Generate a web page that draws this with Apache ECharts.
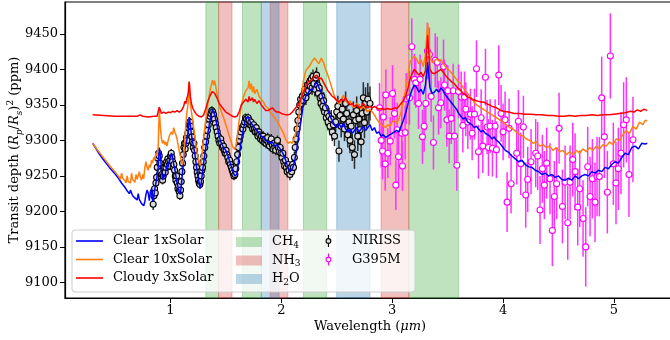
<!DOCTYPE html>
<html>
<head>
<meta charset="utf-8">
<script src="https://cdn.jsdelivr.net/npm/echarts@6/dist/echarts.min.js"></script>
<style>
  html, body { margin: 0; padding: 0; background: #fff; }
  #chart { width: 670px; height: 340px; }
</style>
</head>
<body>
<div id="chart"></div>
<script>
// Axis ticks
const xTicks = [1, 2, 3, 4, 5];
const yTicks = [9100, 9150, 9200, 9250, 9300, 9350, 9400, 9450];

// Molecular absorption windows (micron ranges)
const bandsCH4 = [[1.32, 1.435], [1.65, 1.82], [2.2, 2.41], [3.15, 3.6]];
const bandsNH3 = [[1.435, 1.556], [1.90, 2.06], [2.9, 3.15]];
const bandsH2O = [[1.82, 1.98], [2.5, 2.8]];

// Model spectra: [wavelength (um), transit depth (ppm)]
const clear1x = [
  [0.30,9296],[0.35,9283],[0.40,9272],[0.45,9262],[0.50,9253],[0.53,9247],[0.56,9240],[0.59,9234],[0.61,9229],[0.63,9225],
  [0.64,9230],[0.66,9222],[0.68,9219],[0.70,9216],[0.71,9225],[0.72,9217],[0.74,9211],[0.76,9208],[0.77,9214],[0.78,9224],
  [0.79,9230],[0.80,9226],[0.81,9215],[0.82,9228],[0.83,9232],[0.84,9214],[0.85,9220],[0.86,9232],[0.87,9240],[0.88,9250],
  [0.89,9262],[0.90,9290],[0.91,9280],[0.92,9258],[0.93,9244],[0.94,9252],[0.95,9248],[0.96,9258],[0.97,9266],[0.98,9262],
  [0.99,9272],[1.00,9276],[1.01,9282],[1.02,9276],[1.03,9266],[1.04,9260],[1.05,9250],[1.06,9240],[1.07,9234],[1.08,9228],
  [1.09,9224],[1.10,9238],[1.11,9256],[1.12,9272],[1.13,9286],[1.14,9294],[1.15,9302],[1.16,9312],[1.17,9333],[1.18,9322],
  [1.19,9308],[1.20,9298],[1.21,9290],[1.22,9282],[1.23,9270],[1.24,9258],[1.25,9248],[1.26,9240],[1.27,9232],[1.28,9242],
  [1.29,9256],[1.30,9268],[1.32,9290],[1.34,9312],[1.36,9330],[1.38,9344],[1.40,9336],[1.42,9322],[1.44,9306],[1.46,9296],
  [1.48,9290],[1.50,9286],[1.52,9278],[1.54,9268],[1.56,9258],[1.58,9250],[1.60,9252],[1.62,9278],[1.64,9300],[1.66,9318],
  [1.68,9330],[1.70,9334],[1.72,9326],[1.74,9322],[1.76,9318],[1.78,9314],[1.80,9310],[1.82,9306],[1.84,9304],[1.86,9300],
  [1.88,9298],[1.90,9296],[1.92,9298],[1.94,9292],[1.96,9294],[1.98,9290],[2.00,9286],[2.02,9280],[2.04,9272],[2.06,9262],
  [2.08,9256],[2.10,9260],[2.12,9270],[2.14,9288],[2.16,9310],[2.18,9330],[2.20,9352],[2.22,9362],[2.24,9366],[2.26,9372],
  [2.28,9370],[2.30,9378],[2.32,9382],[2.34,9374],[2.36,9368],[2.38,9358],[2.40,9350],[2.42,9342],[2.44,9334],[2.46,9328],
  [2.48,9322],[2.50,9318],[2.52,9324],[2.54,9318],[2.56,9324],[2.58,9316],[2.60,9312],[2.62,9316],[2.64,9310],[2.66,9314],
  [2.68,9318],[2.70,9312],[2.72,9316],[2.74,9320],[2.76,9314],[2.78,9318],[2.80,9322],[2.82,9314],[2.84,9318],[2.86,9310],
  [2.88,9312],[2.90,9306],[2.92,9308],[2.94,9304],[2.96,9306],[2.98,9308],[3.00,9310],[3.02,9312],[3.04,9314],[3.06,9312],
  [3.08,9320],[3.10,9328],[3.12,9338],[3.14,9350],[3.16,9362],[3.18,9372],[3.20,9378],[3.22,9375],[3.24,9368],[3.26,9372],
  [3.28,9365],[3.30,9378],[3.32,9410],[3.34,9375],[3.36,9366],[3.38,9368],[3.40,9372],[3.42,9368],[3.44,9374],[3.46,9370],
  [3.48,9364],[3.50,9360],[3.52,9356],[3.54,9352],[3.56,9348],[3.58,9344],[3.60,9338],[3.62,9334],[3.64,9330],[3.66,9332],
  [3.68,9326],[3.70,9324],[3.72,9322],[3.74,9318],[3.76,9320],[3.78,9316],[3.80,9312],[3.82,9314],[3.84,9310],[3.86,9308],
  [3.88,9306],[3.90,9302],[3.92,9305],[3.94,9300],[3.96,9298],[3.98,9294],[4.00,9290],[4.02,9286],[4.05,9283],[4.08,9278],
  [4.11,9274],[4.14,9270],[4.17,9272],[4.20,9266],[4.23,9263],[4.26,9262],[4.29,9258],[4.32,9256],[4.35,9252],[4.38,9254],
  [4.41,9250],[4.44,9252],[4.47,9248],[4.50,9250],[4.53,9245],[4.56,9244],[4.59,9247],[4.62,9244],[4.65,9250],[4.68,9246],
  [4.71,9250],[4.74,9252],[4.77,9250],[4.80,9256],[4.83,9254],[4.86,9258],[4.89,9256],[4.92,9262],[4.95,9260],[4.98,9266],
  [5.01,9270],[5.04,9268],[5.07,9276],[5.10,9282],[5.13,9280],[5.16,9290],[5.19,9292],[5.22,9288],[5.25,9296],[5.28,9295],
  [5.30,9296]
];

const clear10x = [
  [0.30,9296],[0.35,9285],[0.40,9275],[0.45,9265],[0.50,9256],[0.53,9250],[0.55,9245],[0.56,9254],[0.57,9247],[0.59,9243],
  [0.60,9240],[0.61,9250],[0.62,9242],[0.64,9240],[0.65,9254],[0.66,9245],[0.68,9241],[0.69,9252],[0.70,9245],[0.72,9256],
  [0.73,9248],[0.74,9244],[0.75,9252],[0.76,9246],[0.77,9262],[0.78,9270],[0.79,9262],[0.80,9258],[0.81,9266],[0.82,9262],
  [0.83,9272],[0.84,9268],[0.85,9276],[0.86,9272],[0.87,9282],[0.88,9278],[0.89,9290],[0.90,9345],[0.91,9318],[0.92,9302],
  [0.93,9296],[0.94,9300],[0.95,9294],[0.96,9298],[0.97,9292],[0.98,9300],[0.99,9306],[1.00,9304],[1.01,9312],[1.02,9308],
  [1.03,9318],[1.04,9312],[1.05,9308],[1.06,9302],[1.07,9294],[1.08,9285],[1.09,9278],[1.10,9270],[1.11,9266],[1.12,9276],
  [1.13,9300],[1.14,9325],[1.15,9340],[1.16,9352],[1.17,9382],[1.18,9352],[1.19,9340],[1.20,9330],[1.21,9318],[1.22,9306],
  [1.23,9294],[1.24,9284],[1.25,9275],[1.26,9268],[1.27,9265],[1.28,9272],[1.29,9288],[1.30,9304],[1.32,9330],[1.34,9354],
  [1.36,9372],[1.38,9385],[1.39,9378],[1.40,9384],[1.42,9366],[1.44,9350],[1.46,9340],[1.48,9332],[1.50,9322],[1.52,9312],
  [1.54,9302],[1.56,9292],[1.58,9287],[1.60,9300],[1.62,9328],[1.64,9350],[1.66,9362],[1.68,9370],[1.70,9374],[1.71,9384],
  [1.72,9372],[1.73,9380],[1.74,9368],[1.75,9376],[1.76,9366],[1.78,9372],[1.80,9362],[1.82,9358],[1.84,9354],[1.86,9348],
  [1.88,9346],[1.90,9340],[1.92,9336],[1.94,9332],[1.96,9328],[1.98,9322],[2.00,9316],[2.02,9310],[2.04,9302],[2.06,9296],
  [2.08,9298],[2.10,9296],[2.12,9305],[2.14,9318],[2.16,9336],[2.18,9356],[2.20,9384],[2.22,9398],[2.24,9402],[2.26,9406],
  [2.28,9412],[2.30,9416],[2.32,9412],[2.34,9408],[2.36,9416],[2.38,9410],[2.40,9400],[2.42,9392],[2.44,9382],[2.46,9372],
  [2.48,9362],[2.50,9356],[2.52,9352],[2.54,9356],[2.56,9364],[2.58,9356],[2.60,9352],[2.62,9356],[2.64,9348],[2.66,9346],
  [2.68,9352],[2.70,9350],[2.72,9344],[2.74,9348],[2.76,9344],[2.78,9340],[2.80,9344],[2.82,9340],[2.84,9336],[2.86,9330],
  [2.88,9326],[2.90,9322],[2.92,9320],[2.94,9318],[2.96,9322],[2.98,9320],[3.00,9326],[3.02,9328],[3.04,9324],[3.06,9330],
  [3.08,9340],[3.10,9355],[3.12,9370],[3.14,9390],[3.16,9410],[3.18,9416],[3.20,9418],[3.22,9415],[3.24,9408],[3.26,9414],
  [3.28,9404],[3.30,9420],[3.32,9465],[3.34,9418],[3.36,9410],[3.38,9412],[3.40,9415],[3.42,9412],[3.44,9414],[3.46,9408],
  [3.48,9404],[3.50,9400],[3.52,9398],[3.54,9394],[3.56,9390],[3.58,9386],[3.60,9382],[3.62,9380],[3.64,9374],[3.66,9370],
  [3.68,9366],[3.70,9362],[3.72,9358],[3.74,9354],[3.76,9350],[3.78,9348],[3.80,9346],[3.82,9344],[3.84,9342],[3.86,9340],
  [3.88,9338],[3.90,9336],[3.92,9334],[3.94,9332],[3.96,9330],[3.98,9328],[4.00,9326],[4.03,9322],[4.06,9318],[4.09,9316],
  [4.12,9312],[4.15,9308],[4.18,9306],[4.21,9302],[4.24,9300],[4.27,9296],[4.30,9298],[4.33,9292],[4.36,9294],[4.39,9290],
  [4.42,9292],[4.45,9286],[4.48,9290],[4.51,9284],[4.54,9286],[4.57,9280],[4.60,9284],[4.63,9280],[4.66,9286],[4.69,9282],
  [4.72,9288],[4.75,9284],[4.78,9290],[4.81,9286],[4.84,9292],[4.87,9288],[4.90,9294],[4.93,9292],[4.96,9298],[4.99,9294],
  [5.02,9302],[5.05,9300],[5.08,9308],[5.11,9314],[5.14,9310],[5.17,9320],[5.20,9316],[5.23,9326],[5.26,9322],[5.28,9328],
  [5.30,9328]
];

const cloudy3x = [
  [0.30,9336],[0.40,9335],[0.50,9334],[0.60,9334],[0.70,9334],[0.73,9336],[0.75,9334],[0.80,9333],[0.85,9334],[0.88,9334],
  [0.89,9336],[0.90,9347],[0.91,9342],[0.92,9338],[0.94,9340],[0.96,9338],[0.98,9340],[1.00,9339],[1.02,9341],[1.04,9340],
  [1.06,9342],[1.08,9340],[1.10,9342],[1.12,9348],[1.13,9355],[1.14,9352],[1.15,9360],[1.16,9366],[1.17,9383],[1.18,9362],
  [1.19,9352],[1.20,9346],[1.22,9340],[1.24,9336],[1.26,9334],[1.28,9333],[1.30,9336],[1.32,9345],[1.34,9356],[1.36,9364],
  [1.38,9369],[1.40,9366],[1.42,9360],[1.44,9352],[1.46,9348],[1.48,9344],[1.50,9340],[1.52,9338],[1.54,9336],[1.56,9334],
  [1.58,9333],[1.60,9334],[1.62,9340],[1.64,9350],[1.66,9354],[1.68,9358],[1.70,9354],[1.71,9362],[1.72,9356],[1.74,9360],
  [1.75,9354],[1.76,9358],[1.78,9352],[1.80,9356],[1.82,9350],[1.84,9346],[1.86,9342],[1.88,9342],[1.90,9344],[1.92,9346],
  [1.94,9342],[1.96,9340],[1.98,9340],[2.00,9338],[2.02,9337],[2.04,9336],[2.06,9336],[2.08,9337],[2.10,9340],[2.12,9344],
  [2.14,9348],[2.16,9352],[2.18,9360],[2.20,9368],[2.22,9376],[2.24,9382],[2.26,9384],[2.28,9386],[2.30,9390],[2.32,9392],
  [2.34,9386],[2.36,9388],[2.38,9382],[2.40,9376],[2.42,9370],[2.44,9366],[2.46,9362],[2.48,9360],[2.50,9356],[2.52,9354],
  [2.54,9358],[2.56,9356],[2.58,9360],[2.60,9354],[2.62,9350],[2.64,9352],[2.66,9348],[2.68,9350],[2.70,9346],[2.72,9348],
  [2.74,9352],[2.76,9348],[2.78,9346],[2.80,9348],[2.82,9346],[2.84,9348],[2.86,9346],[2.88,9344],[2.90,9345],[2.92,9344],
  [2.94,9344],[2.96,9345],[2.98,9344],[3.00,9344],[3.02,9346],[3.04,9345],[3.06,9348],[3.08,9352],[3.10,9356],[3.12,9362],
  [3.14,9372],[3.16,9386],[3.18,9394],[3.20,9400],[3.22,9396],[3.24,9392],[3.26,9396],[3.28,9390],[3.30,9398],[3.32,9448],
  [3.34,9400],[3.36,9395],[3.38,9394],[3.40,9396],[3.42,9398],[3.44,9400],[3.46,9396],[3.48,9392],[3.50,9388],[3.52,9385],
  [3.54,9382],[3.56,9380],[3.58,9376],[3.60,9372],[3.62,9370],[3.64,9366],[3.66,9364],[3.68,9361],[3.70,9360],[3.72,9358],
  [3.74,9357],[3.76,9356],[3.78,9355],[3.80,9354],[3.82,9354],[3.84,9353],[3.86,9351],[3.88,9350],[3.90,9348],[3.92,9347],
  [3.94,9346],[3.96,9344],[3.98,9342],[4.00,9341],[4.05,9340],[4.10,9338],[4.15,9338],[4.20,9337],[4.25,9337],[4.30,9336],
  [4.35,9336],[4.40,9335],[4.45,9335],[4.50,9334],[4.55,9334],[4.60,9335],[4.65,9334],[4.70,9335],[4.75,9335],[4.80,9336],
  [4.85,9335],[4.90,9336],[4.95,9336],[5.00,9337],[5.05,9338],[5.10,9339],[5.15,9341],[5.18,9340],[5.21,9343],[5.24,9341],
  [5.27,9344],[5.30,9342]
];

// NIRISS observations: [wavelength (um), depth (ppm), 1-sigma error (ppm)]
const niriss = [
  [0.845,9210,8],[0.852,9222,7],[0.858,9232,7],[0.864,9226,7],[0.870,9240,7],[0.876,9248,7],[0.882,9262,7],[0.888,9275,7],
  [0.894,9282,7],[0.900,9278,7],[0.906,9268,6],[0.912,9256,6],[0.918,9248,6],[0.924,9252,6],[0.930,9244,6],[0.936,9250,6],
  [0.942,9258,6],[0.948,9262,6],[0.954,9255,6],[0.960,9262,6],[0.966,9270,6],[0.972,9266,6],[0.978,9274,6],[0.984,9270,6],
  [0.990,9264,6],[0.996,9272,6],[1.002,9278,6],[1.008,9282,6],[1.014,9276,6],[1.020,9270,6],[1.026,9262,6],[1.032,9266,6],
  [1.038,9258,6],[1.044,9250,6],[1.050,9244,6],[1.056,9250,6],[1.062,9240,6],[1.068,9232,6],[1.074,9236,6],[1.080,9228,6],
  [1.086,9222,6],[1.092,9230,6],[1.098,9242,6],[1.104,9256,6],[1.110,9268,6],[1.116,9280,6],[1.122,9290,6],[1.128,9296,6],
  [1.134,9288,6],[1.140,9296,6],[1.146,9304,6],[1.152,9300,6],[1.158,9310,6],[1.164,9318,6],[1.170,9322,6],[1.176,9326,6],
  [1.182,9320,6],[1.188,9312,6],[1.194,9305,6],[1.200,9298,6],[1.206,9290,6],[1.212,9296,6],[1.218,9286,6],[1.224,9278,6],
  [1.230,9270,6],[1.236,9262,6],[1.242,9255,6],[1.248,9250,6],[1.254,9244,6],[1.260,9240,6],[1.266,9238,6],[1.272,9242,6],
  [1.278,9250,6],[1.284,9258,6],[1.290,9262,6],[1.296,9270,6],[1.302,9278,6],[1.310,9290,6],[1.318,9298,6],[1.326,9306,6],
  [1.334,9314,6],[1.342,9322,6],[1.350,9330,6],[1.358,9334,6],[1.366,9338,6],[1.374,9342,6],[1.382,9340,6],[1.390,9336,6],
  [1.398,9330,6],[1.406,9324,6],[1.414,9318,6],[1.422,9312,6],[1.430,9306,6],[1.438,9300,6],[1.446,9296,6],[1.454,9302,6],
  [1.462,9296,6],[1.470,9290,6],[1.478,9292,6],[1.486,9286,6],[1.494,9282,6],[1.502,9286,6],[1.510,9280,6],[1.518,9276,6],
  [1.526,9270,6],[1.534,9272,6],[1.542,9266,6],[1.550,9262,6],[1.558,9258,6],[1.566,9254,6],[1.574,9250,6],[1.582,9252,6],
  [1.590,9260,6],[1.598,9270,6],[1.606,9280,6],[1.614,9290,6],[1.622,9300,6],[1.630,9306,6],[1.638,9312,6],[1.646,9318,6],
  [1.654,9316,6],[1.662,9322,6],[1.670,9326,6],[1.678,9332,6],[1.686,9330,6],[1.694,9326,6],[1.702,9332,6],[1.710,9328,6],
  [1.718,9322,6],[1.726,9326,6],[1.734,9320,6],[1.742,9316,6],[1.750,9322,6],[1.758,9316,6],[1.766,9312,6],[1.774,9318,6],
  [1.782,9312,6],[1.790,9306,6],[1.798,9312,6],[1.806,9308,6],[1.814,9302,6],[1.822,9306,6],[1.830,9300,7],[1.838,9306,7],
  [1.846,9298,7],[1.854,9302,7],[1.862,9296,7],[1.870,9300,7],[1.878,9304,7],[1.886,9296,7],[1.894,9292,7],[1.902,9298,7],
  [1.910,9302,7],[1.918,9294,7],[1.926,9288,7],[1.934,9296,7],[1.942,9290,7],[1.950,9286,7],[1.958,9294,7],[1.966,9300,7],
  [1.974,9290,7],[1.982,9284,7],[1.990,9290,7],[1.998,9282,7],[2.006,9276,8],[2.014,9282,8],[2.022,9270,8],[2.030,9264,8],
  [2.038,9272,8],[2.046,9262,8],[2.054,9256,8],[2.062,9266,8],[2.070,9258,8],[2.078,9252,8],[2.086,9262,8],[2.094,9256,8],
  [2.102,9266,8],[2.110,9262,8],[2.118,9276,8],[2.126,9290,8],[2.134,9302,8],[2.142,9316,9],[2.150,9328,9],[2.158,9340,9],
  [2.166,9350,9],[2.174,9358,9],[2.182,9352,9],[2.190,9362,9],[2.198,9356,9],[2.206,9366,9],[2.214,9372,10],[2.222,9360,10],
  [2.230,9368,10],[2.238,9378,10],[2.246,9370,10],[2.254,9382,10],[2.262,9376,10],[2.270,9386,10],[2.278,9374,10],[2.286,9390,10],
  [2.294,9380,10],[2.302,9372,10],[2.310,9388,10],[2.318,9392,11],[2.326,9378,11],[2.334,9366,11],[2.342,9374,11],[2.350,9360,11],
  [2.358,9352,11],[2.366,9362,11],[2.374,9348,11],[2.382,9356,12],[2.390,9340,12],[2.398,9346,12],[2.406,9332,12],[2.414,9338,12],
  [2.422,9326,12],[2.430,9334,12],[2.440,9320,13],[2.450,9330,13],[2.460,9312,13],[2.470,9322,13],[2.480,9306,14],[2.490,9326,14],
  [2.500,9340,14],[2.510,9348,15],[2.520,9285,15],[2.530,9335,15],[2.540,9320,16],[2.550,9344,16],[2.560,9330,16],[2.570,9316,17],
  [2.580,9352,17],[2.590,9338,17],[2.600,9308,18],[2.610,9326,18],[2.620,9300,18],[2.630,9320,19],[2.640,9290,19],[2.650,9336,19],
  [2.660,9280,20],[2.670,9328,20],[2.680,9342,20],[2.690,9306,21],[2.700,9330,21],[2.710,9315,21],[2.720,9298,22],[2.730,9338,22],
  [2.740,9360,22],[2.750,9325,22],[2.760,9352,23],[2.770,9340,23],[2.780,9358,23],[2.790,9345,23],[2.800,9352,24]
];

// NIRSpec G395M observations: [wavelength (um), depth (ppm), 1-sigma error (ppm)]
const g395m = [
  [2.886,9346,35],[2.901,9300,38],[2.913,9285,40],[2.920,9333,36],[2.937,9267,38],[2.943,9364,36],[2.961,9282,35],[2.982,9299,34],
  [3.003,9366,40],[3.021,9338,35],[3.033,9237,35],[3.045,9315,38],[3.057,9277,38],[3.087,9310,36],[3.093,9264,35],[3.117,9311,38],
  [3.126,9359,36],[3.156,9360,38],[3.177,9432,40],[3.201,9386,36],[3.213,9381,35],[3.237,9352,36],[3.252,9386,35],[3.273,9305,38],
  [3.288,9320,36],[3.303,9352,38],[3.318,9426,40],[3.336,9421,38],[3.351,9362,36],[3.372,9297,38],[3.388,9413,38],[3.406,9410,36],
  [3.418,9346,38],[3.439,9353,36],[3.463,9404,38],[3.472,9378,36],[3.493,9329,38],[3.502,9370,36],[3.514,9306,38],[3.532,9331,36],
  [3.550,9370,38],[3.562,9306,38],[3.583,9265,36],[3.598,9369,38],[3.622,9361,36],[3.637,9321,38],[3.652,9361,36],[3.664,9344,38],
  [3.682,9326,38],[3.706,9337,36],[3.721,9310,38],[3.742,9337,36],[3.760,9401,40],[3.778,9284,38],[3.802,9332,40],[3.817,9292,38],
  [3.841,9389,40],[3.856,9319,38],[3.868,9290,40],[3.883,9320,38],[3.904,9289,40],[3.928,9320,38],[3.940,9287,40],[3.961,9392,42],
  [3.982,9338,40],[4.000,9312,40],[4.018,9329,40],[4.036,9213,42],[4.054,9317,42],[4.072,9239,42],[4.123,9282,44],[4.138,9327,44],
  [4.159,9267,44],[4.183,9319,44],[4.204,9223,46],[4.222,9245,46],[4.252,9270,46],[4.294,9282,48],[4.312,9278,48],[4.333,9202,48],
  [4.354,9260,48],[4.372,9237,48],[4.393,9268,50],[4.423,9246,50],[4.444,9173,50],[4.462,9221,50],[4.483,9239,50],[4.505,9317,50],
  [4.535,9207,52],[4.559,9241,52],[4.583,9184,52],[4.604,9241,52],[4.628,9273,52],[4.649,9256,54],[4.673,9206,54],[4.691,9232,54],
  [4.721,9190,54],[4.745,9150,56],[4.763,9263,56],[4.784,9221,56],[4.805,9246,56],[4.829,9213,56],[4.847,9249,56],[4.868,9249,56],
  [4.889,9360,58],[4.913,9305,58],[4.940,9227,58],[4.967,9419,60],[4.994,9267,58],[5.018,9240,58],[5.039,9260,58],[5.063,9282,58],
  [5.087,9322,60],[5.111,9329,60],[5.135,9252,60],[5.171,9301,60]
];

const FONT = 'DejaVu Serif';
const C_GREEN = '#2ca02c', C_RED = '#d62728', C_BLUE = '#1f77b4';

function bandSeries(name, color, ranges) {
  return {
    name: name,
    type: 'line',
    data: [],
    silent: true,
    markArea: {
      silent: true,
      itemStyle: { color: color, opacity: 0.3, borderColor: color, borderWidth: 1 },
      data: ranges.map(r => [{ xAxis: r[0] }, { xAxis: r[1] }])
    }
  };
}

function modelSeries(name, color, data) {
  return {
    name: name,
    type: 'line',
    data: data,
    symbol: 'none',
    lineStyle: { color: color, width: 1.5 },
    itemStyle: { color: color },
    silent: true
  };
}

function errorBars(name, color, width, data) {
  return {
    name: name,
    type: 'custom',
    data: data,
    encode: { x: 0, y: 1 },
    silent: true,
    renderItem: function (params, api) {
      const x = api.value(0), y = api.value(1), e = api.value(2);
      const hi = api.coord([x, y + e]);
      const lo = api.coord([x, y - e]);
      return {
        type: 'line',
        shape: { x1: hi[0], y1: hi[1], x2: lo[0], y2: lo[1] },
        style: { stroke: color, lineWidth: width }
      };
    }
  };
}

function markerSeries(name, fill, edge, data) {
  return {
    name: name,
    type: 'scatter',
    data: data.map(d => [d[0], d[1]]),
    symbol: 'circle',
    symbolSize: 6,
    itemStyle: { color: fill, borderColor: edge, borderWidth: 1.1, opacity: 1 },
    silent: true
  };
}

const legendText = {
  fontFamily: FONT, fontSize: 13, color: '#000', lineHeight: 14, padding: [0, 0, 0, 5],
  rich: {
    n: { fontFamily: FONT, fontSize: 13, color: '#000', lineHeight: 14 },
    s: { fontFamily: FONT, fontSize: 9, color: '#000', lineHeight: 8, padding: [7, 0, 0, 0] }
  }
};

function legendItem(item, left, rowCenter, w, h, formatter) {
  return {
    show: true,
    selectedMode: false,
    orient: 'vertical',
    left: left,
    top: rowCenter - 7,
    padding: 0,
    itemWidth: w,
    itemHeight: h,
    itemGap: 0,
    data: [item],
    textStyle: legendText,
    formatter: formatter || '{name}'
  };
}

const rows = [241, 259.5, 278];
const ERRBAR_ICON = 'path://M5,0 L5,6 M5,14 L5,20 M9,10 A4,4 0 1,1 1,10 A4,4 0 1,1 9,10 Z';
const chemName = {
  'CH4': '{n|CH}{s|4}',
  'NH3': '{n|NH}{s|3}',
  'H2O': '{n|H}{s|2}{n|O}'
};
const chemFmt = name => chemName[name] || name;
const lineIcon = color => ({ color: color, borderWidth: 0 });

const chart = echarts.init(document.getElementById('chart'), null, { renderer: 'canvas' });

chart.setOption({
  animation: false,
  backgroundColor: '#fff',
  grid: {
    left: 65, right: -5, top: 2, bottom: 42,
    outerBoundsMode: 'none', containLabel: false,
    show: true, borderColor: '#000', borderWidth: 1.2, backgroundColor: 'transparent'
  },
  xAxis: {
    type: 'value', min: 0.05, max: 5.55,
    axisLine: { lineStyle: { color: '#000', width: 1.2 } },
    axisTick: { customValues: xTicks, length: 5, lineStyle: { color: '#000', width: 1 } },
    axisLabel: { customValues: xTicks, formatter: v => String(v), fontFamily: FONT, fontSize: 13, color: '#000', margin: 6 },
    splitLine: { show: false },
    name: '{t|Wavelength (}{i|μm}{t|)}',
    nameLocation: 'middle',
    nameGap: 22,
    nameMoveOverlap: false,
    nameTextStyle: {
      fontFamily: FONT, fontSize: 13, color: '#000',
      rich: {
        t: { fontFamily: FONT, fontSize: 13, color: '#000' },
        i: { fontFamily: FONT, fontSize: 13, color: '#000', fontStyle: 'italic' }
      }
    }
  },
  yAxis: {
    type: 'value', min: 9078, max: 9495,
    axisLine: { show: true, lineStyle: { color: '#000', width: 1.2 } },
    axisTick: { show: true, customValues: yTicks, length: 5, lineStyle: { color: '#000', width: 1 } },
    axisLabel: { customValues: yTicks, formatter: v => String(v), fontFamily: FONT, fontSize: 13, color: '#000', margin: 7 },
    splitLine: { show: false },
    name: '{t|Transit depth (}{i|R}{s|p}{t|/}{i|R}{s|s}{t|)}{u|2}{t| (ppm)}',
    nameLocation: 'middle',
    nameRotate: 90,
    nameGap: 41,
    nameMoveOverlap: false,
    nameTextStyle: {
      fontFamily: FONT, fontSize: 13, color: '#000',
      rich: {
        t: { fontFamily: FONT, fontSize: 13, color: '#000', lineHeight: 18 },
        i: { fontFamily: FONT, fontSize: 13, color: '#000', fontStyle: 'italic', lineHeight: 18 },
        s: { fontFamily: FONT, fontSize: 9, color: '#000', fontStyle: 'italic', lineHeight: 9, padding: [9, 0, 0, 0] },
        u: { fontFamily: FONT, fontSize: 9, color: '#000', lineHeight: 9, padding: [0, 0, 8, 0] }
      }
    }
  },
  graphic: [{
    type: 'rect',
    z: 3,
    silent: true,
    shape: { x: 72, y: 230, width: 343, height: 62, r: 3 },
    style: { fill: 'rgba(255,255,255,0.8)', stroke: '#cccccc', lineWidth: 1 }
  }],
  legend: [
    legendItem({ name: 'Clear 1xSolar', icon: 'rect', itemStyle: lineIcon('#0000ff') }, 76, rows[0], 27, 1.6),
    legendItem({ name: 'Clear 10xSolar', icon: 'rect', itemStyle: lineIcon('#ff7f0e') }, 76, rows[1], 27, 1.6),
    legendItem({ name: 'Cloudy 3xSolar', icon: 'rect', itemStyle: lineIcon('#ff0000') }, 76, rows[2], 27, 1.6),
    legendItem({ name: 'CH4', icon: 'rect', itemStyle: { color: 'rgba(44,160,44,0.3)', borderWidth: 0 } }, 236, rows[0], 26, 10, chemFmt),
    legendItem({ name: 'NH3', icon: 'rect', itemStyle: { color: 'rgba(214,39,40,0.3)', borderWidth: 0 } }, 236, rows[1], 26, 10, chemFmt),
    legendItem({ name: 'H2O', icon: 'rect', itemStyle: { color: 'rgba(31,119,180,0.3)', borderWidth: 0 } }, 236, rows[2], 26, 10, chemFmt),
    legendItem({ name: 'NIRISS', icon: ERRBAR_ICON, itemStyle: { color: '#d9d9d9', borderColor: '#000', borderWidth: 1.1 } }, 325.5, rows[0], 27, 12),
    legendItem({ name: 'G395M', icon: ERRBAR_ICON, itemStyle: { color: '#ffffff', borderColor: '#ff00ff', borderWidth: 1.1 } }, 325.5, rows[1], 27, 12)
  ],
  series: [
    bandSeries('CH4', C_GREEN, bandsCH4),
    bandSeries('NH3', C_RED, bandsNH3),
    bandSeries('H2O', C_BLUE, bandsH2O),
    modelSeries('Clear 1xSolar', '#0000ff', clear1x),
    modelSeries('Clear 10xSolar', '#ff7f0e', clear10x),
    modelSeries('Cloudy 3xSolar', '#ff0000', cloudy3x),
    errorBars('NIRISS error', '#2b2b2b', 1.5, niriss),
    markerSeries('NIRISS', '#d9d9d9', '#000', niriss),
    errorBars('G395M error', '#ff33ff', 1.5, g395m),
    markerSeries('G395M', '#ffffff', '#ff00ff', g395m)
  ]
});
</script>
</body>
</html>
